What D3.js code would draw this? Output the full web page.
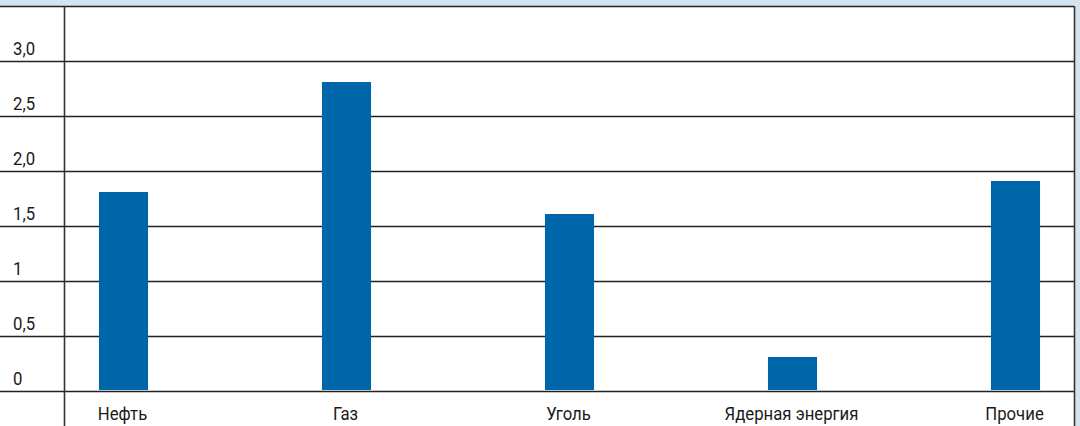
<!DOCTYPE html>
<html><head><meta charset="utf-8">
<script src="https://cdn.jsdelivr.net/npm/d3@7"></script>
<style>
html,body{margin:0;padding:0;background:#fff;}
svg{display:block;}
text{font-family:Roboto,"Noto Sans",sans-serif;fill:#1a1a1a;}
</style></head>
<body><svg id="c" width="1080" height="426"></svg>
<script>
const categories = ["Нефть","Газ","Уголь","Ядерная энергия","Прочие"];
const values = [1.8, 2.8, 1.6, 0.3, 1.9];
const tickValues = [0, 0.5, 1, 1.5, 2, 2.5, 3, 3.5];
const tickLabels = ["0","0,5","1","1,5","2,0","2,5","3,0",""];

const W = 1080, H = 426;
const svg = d3.select("#c");
const plotLeft = 64, plotRight = 1074, plotTop = 6;
const sx = 0.93;

svg.append("rect").attr("x",0).attr("y",0).attr("width",W).attr("height",H).attr("fill","#d5e3ee");
svg.append("rect").attr("x",0).attr("y",plotTop).attr("width",plotRight).attr("height",H-plotTop).attr("fill","#fff");

const y = d3.scaleLinear().domain([0,3.5]).range([391,6]);
const x = d3.scaleBand().domain(categories).range([12,1127]).paddingInner(0.78).paddingOuter(0.39);

svg.append("g").selectAll("line").data(tickValues).join("line")
  .attr("x1",0).attr("x2",plotRight)
  .attr("y1",d=>Math.round(y(d))+0.5).attr("y2",d=>Math.round(y(d))+0.5)
  .attr("stroke","#222").attr("stroke-width",1.6);

svg.append("line").attr("x1",plotLeft+0.5).attr("x2",plotLeft+0.5).attr("y1",plotTop).attr("y2",H)
  .attr("stroke","#333").attr("stroke-width",1.6);
svg.append("line").attr("x1",plotRight+0.5).attr("x2",plotRight+0.5).attr("y1",plotTop).attr("y2",H)
  .attr("stroke","#333").attr("stroke-width",1.6);

svg.append("g").selectAll("text").data(tickValues).join("text")
  .attr("transform",d=>`translate(13,${y(d)-6}) scale(${sx},1)`)
  .attr("font-size",18)
  .text((d,i)=>tickLabels[i]);

svg.append("g").selectAll("rect").data(values).join("rect")
  .attr("x",(d,i)=>x(categories[i]))
  .attr("width",x.bandwidth())
  .attr("y",d=>y(d)-1)
  .attr("height",d=>y(0)-y(d))
  .attr("fill","#0066aa");

svg.append("g").selectAll("text").data(categories).join("text")
  .attr("transform",d=>`translate(${x(d)+x.bandwidth()/2-1},420) scale(${sx},1)`)
  .attr("text-anchor","middle").attr("font-size",18)
  .text(d=>d);
</script></body></html>
